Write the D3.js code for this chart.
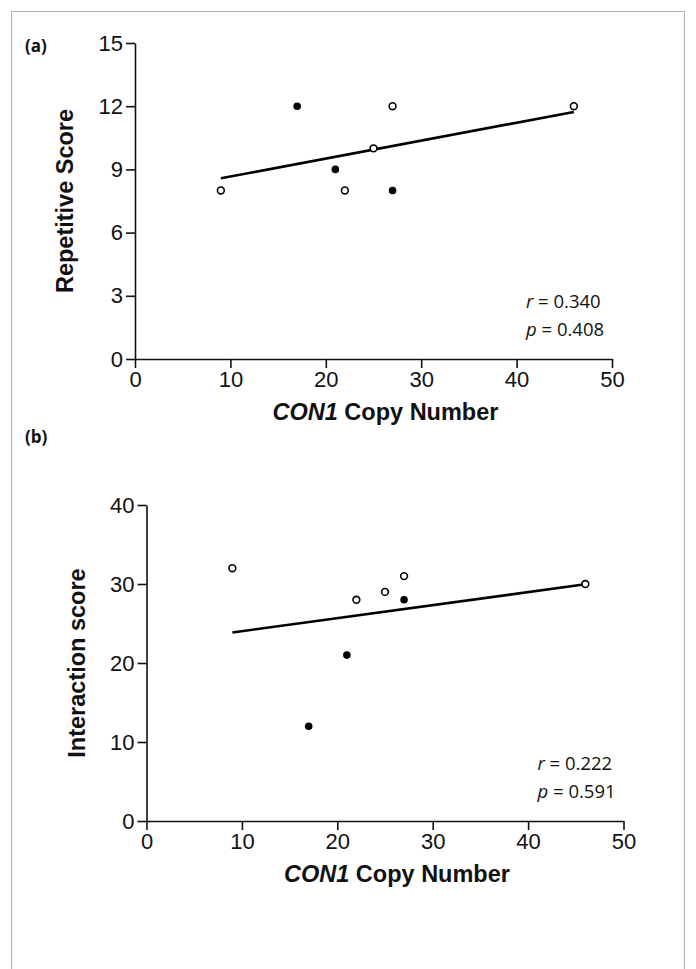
<!DOCTYPE html>
<html>
<head>
<meta charset="utf-8">
<script src="https://cdn.jsdelivr.net/npm/d3@7"></script>
<style>
  body { margin: 0; background: #fff; }
  .tick text { font-family: "Liberation Sans", Arial, sans-serif; font-size: 22px; fill: #111; }
  .axisTitle { font-family: "Liberation Sans", Arial, sans-serif; font-weight: bold; font-size: 23.5px; fill: #111; }
  .stat { font-family: "Open Sans", sans-serif; font-size: 18.5px; fill: #111; }
  .panelTag { font-family: "Open Sans", sans-serif; font-weight: bold; font-size: 17px; fill: #111; }
</style>
</head>
<body>
<div id="chart"></div>
<script>
// one entry per subject, same order in both panels
const copyNumber = [9, 17, 21, 22, 25, 27, 27, 46];
const isFilled = [false, true, true, false, false, false, true, false];
const repetitiveScore = [8, 12, 9, 8, 10, 12, 8, 12];
const interactionScore = [32, 12, 21, 28, 29, 31, 28, 30];

const xTicks = [0, 10, 20, 30, 40, 50];
const repetitiveTicks = [0, 3, 6, 9, 12, 15];
const interactionTicks = [0, 10, 20, 30, 40];

const panelTags = ['(a)', '(b)'];
const yTitles = ['Repetitive Score', 'Interaction score'];
const rValues = ['0.340', '0.222'];
const pValues = ['0.408', '0.591'];

const W = 696, H = 969;
const plotW = 477, plotH = 316;

const svg = d3.select('#chart')
    .append('svg')
    .attr('width', W)
    .attr('height', H);

// grey frame round the figure, its bottom runs off the page
svg.append('rect')
    .attr('x', 11.5).attr('y', 11.5)
    .attr('width', 673).attr('height', 990)
    .attr('fill', 'none')
    .attr('stroke', '#b0b0b0')
    .attr('stroke-width', 1);

// least squares line through the points
const fitLine = (xs, ys) => {
    const mx = d3.mean(xs), my = d3.mean(ys);
    let sxy = 0, sxx = 0;
    xs.forEach((x, i) => { sxy += (x - mx) * (ys[i] - my); sxx += (x - mx) * (x - mx); });
    const slope = sxy / sxx;
    const x0 = d3.min(xs), x1 = d3.max(xs);
    return [[x0, my + slope * (x0 - mx)], [x1, my + slope * (x1 - mx)]];
};

const drawPanel = (i, left, top, ys, yMax, yTicks, tagY) => {
    const g = svg.append('g').attr('transform', `translate(${left},${top})`);

    const x = d3.scaleLinear().domain([0, 50]).range([0, plotW]);
    const y = d3.scaleLinear().domain([0, yMax]).range([plotH, 0]);

    const xAxis = g.append('g')
        .attr('transform', `translate(0,${plotH})`)
        .call(d3.axisBottom(x).tickValues(xTicks).tickSize(9).tickSizeOuter(0).tickPadding(3));
    const yAxis = g.append('g')
        .call(d3.axisLeft(y).tickValues(yTicks).tickSize(9).tickSizeOuter(0).tickPadding(3));
    [xAxis, yAxis].forEach((a) => {
        a.selectAll('path, line').attr('stroke', '#111').attr('stroke-width', 1.6);
    });

    // fit line
    const pts = fitLine(copyNumber, ys);
    g.append('path')
        .attr('d', d3.line().x((d) => x(d[0])).y((d) => y(d[1]))(pts))
        .attr('stroke', '#000')
        .attr('stroke-width', 2.6)
        .attr('fill', 'none');

    g.selectAll('circle.pt')
        .data(copyNumber.map((c, k) => ({ c, v: ys[k], f: isFilled[k] })))
        .enter()
        .append('circle')
        .classed('pt', true)
        .attr('cx', (d) => x(d.c))
        .attr('cy', (d) => y(d.v))
        .attr('r', (d) => (d.f ? 3.8 : 3.4))
        .attr('fill', (d) => (d.f ? '#000' : '#fff'))
        .attr('stroke', '#000')
        .attr('stroke-width', (d) => (d.f ? 0 : 1.6));

    // axis titles
    const xt = g.append('text')
        .attr('class', 'axisTitle')
        .attr('x', plotW / 2 + 12)
        .attr('y', plotH + 61)
        .attr('text-anchor', 'middle');
    xt.append('tspan').attr('font-style', 'italic').text('CON1');
    xt.append('tspan').text(' Copy Number');

    g.append('text')
        .attr('class', 'axisTitle')
        .attr('transform', `translate(-62,${plotH / 2}) rotate(-90)`)
        .attr('text-anchor', 'middle')
        .text(yTitles[i]);

    // statistics
    const r = g.append('text').attr('class', 'stat').attr('x', 391).attr('y', plotH - 51);
    r.append('tspan').attr('font-style', 'italic').text('r');
    r.append('tspan').text(' = ' + rValues[i]);
    const p = g.append('text').attr('class', 'stat').attr('x', 391).attr('y', plotH - 23);
    p.append('tspan').attr('font-style', 'italic').text('p');
    p.append('tspan').text(' = ' + pValues[i]);

    g.append('text')
        .attr('class', 'panelTag')
        .attr('x', 25 - left)
        .attr('y', tagY - top)
        .text(panelTags[i]);
};

drawPanel(0, 135, 43, repetitiveScore, 15, repetitiveTicks, 52);
drawPanel(1, 146.5, 505, interactionScore, 40, interactionTicks, 443);
</script>
</body>
</html>
